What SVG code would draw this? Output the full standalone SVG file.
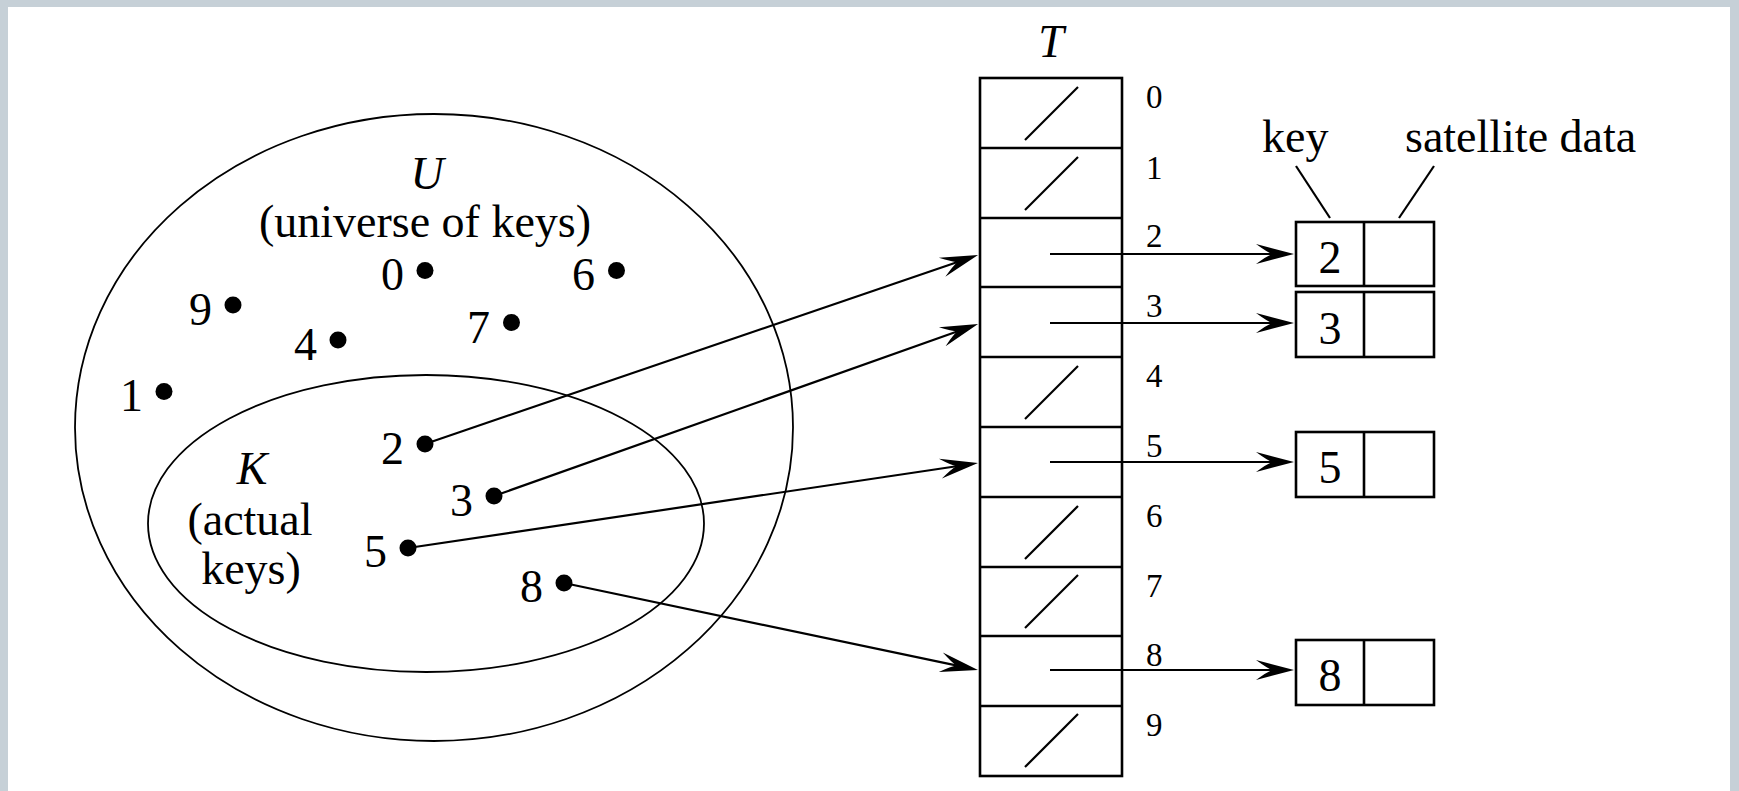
<svg xmlns="http://www.w3.org/2000/svg" width="1739" height="791" viewBox="0 0 1739 791">
  <defs>
    <style>
      .txt { font-family: "Liberation Serif", "Times New Roman", serif; fill: #000; }
      .big { font-size: 46px; }
      .idx { font-size: 33px; }
      .it { font-style: italic; }
      .ell { fill: none; stroke: #000; stroke-width: 1.8; }
      .cell { fill: none; stroke: #000; stroke-width: 2.6; }
      .rule { stroke: #000; stroke-width: 2.6; }
      .nil { stroke: #000; stroke-width: 2.2; }
      .dot { fill: #000; }
      .link { fill: none; stroke: #000; stroke-width: 2.2; marker-end: url(#arrow); }
      .lead { stroke: #000; stroke-width: 2.2; }
    </style>
    <marker id="arrow" viewBox="-40 -11 40 22" markerWidth="40" markerHeight="22" refX="-20" refY="0" orient="auto" markerUnits="userSpaceOnUse">
      <path d="M0,0 L-38,-10 Q-27,-2 -22,0 Q-27,2 -38,10 Z" fill="#000"/>
    </marker>
  </defs>

  <!-- page and frame -->
  <rect x="0" y="0" width="1739" height="791" fill="#fff"/>
  <rect x="0" y="0" width="1739" height="7" fill="#c6d0d7"/>
  <rect x="0" y="0" width="8" height="791" fill="#c6d0d7"/>
  <rect x="1730" y="0" width="9" height="791" fill="#c6d0d7"/>

  <!-- universe of keys -->
  <g id="universe">
    <ellipse class="ell" cx="434" cy="427.5" rx="359" ry="313.5"/>
    <text class="txt big it" x="427" y="189" text-anchor="middle">U</text>
    <text class="txt big" x="425" y="237" text-anchor="middle">(universe of keys)</text>
  </g>

  <!-- actual keys -->
  <g id="actual-keys">
    <ellipse class="ell" cx="426" cy="523.5" rx="278" ry="148.5"/>
    <text class="txt big it" x="252" y="484" text-anchor="middle">K</text>
    <text class="txt big" x="250" y="535" text-anchor="middle">(actual</text>
    <text class="txt big" x="251" y="584" text-anchor="middle">keys)</text>
  </g>

  <!-- keys -->
  <g id="key-0"><circle class="dot" cx="425" cy="270.5" r="8.5"/><text class="txt big" x="404" y="290" text-anchor="end">0</text></g>
  <g id="key-1"><circle class="dot" cx="164" cy="391.5" r="8.5"/><text class="txt big" x="143" y="411" text-anchor="end">1</text></g>
  <g id="key-2"><circle class="dot" cx="425" cy="444" r="8.5"/><text class="txt big" x="404" y="464" text-anchor="end">2</text></g>
  <g id="key-3"><circle class="dot" cx="494" cy="496" r="8.5"/><text class="txt big" x="473" y="516" text-anchor="end">3</text></g>
  <g id="key-4"><circle class="dot" cx="338" cy="340" r="8.5"/><text class="txt big" x="317" y="360" text-anchor="end">4</text></g>
  <g id="key-5"><circle class="dot" cx="408" cy="548" r="8.5"/><text class="txt big" x="387" y="567" text-anchor="end">5</text></g>
  <g id="key-6"><circle class="dot" cx="616.5" cy="270.5" r="8.5"/><text class="txt big" x="595" y="290" text-anchor="end">6</text></g>
  <g id="key-7"><circle class="dot" cx="511.5" cy="322.5" r="8.5"/><text class="txt big" x="490" y="343" text-anchor="end">7</text></g>
  <g id="key-8"><circle class="dot" cx="564" cy="583" r="8.5"/><text class="txt big" x="543" y="602" text-anchor="end">8</text></g>
  <g id="key-9"><circle class="dot" cx="233" cy="305" r="8.5"/><text class="txt big" x="212" y="325" text-anchor="end">9</text></g>

  <!-- direct-address table T -->
  <g id="table">
    <text class="txt big it" x="1051" y="57" text-anchor="middle">T</text>
    <rect class="cell" x="980" y="78" width="142" height="698"/>
    <line class="rule" x1="980" y1="148" x2="1122" y2="148"/>
    <line class="rule" x1="980" y1="218" x2="1122" y2="218"/>
    <line class="rule" x1="980" y1="287" x2="1122" y2="287"/>
    <line class="rule" x1="980" y1="357" x2="1122" y2="357"/>
    <line class="rule" x1="980" y1="427" x2="1122" y2="427"/>
    <line class="rule" x1="980" y1="497" x2="1122" y2="497"/>
    <line class="rule" x1="980" y1="567" x2="1122" y2="567"/>
    <line class="rule" x1="980" y1="636" x2="1122" y2="636"/>
    <line class="rule" x1="980" y1="706" x2="1122" y2="706"/>
    <!-- empty slots -->
    <line class="nil" x1="1025" y1="140" x2="1078" y2="87"/>
    <line class="nil" x1="1025" y1="210" x2="1078" y2="157"/>
    <line class="nil" x1="1025" y1="419" x2="1078" y2="366"/>
    <line class="nil" x1="1025" y1="559" x2="1078" y2="506"/>
    <line class="nil" x1="1025" y1="628" x2="1078" y2="575"/>
    <line class="nil" x1="1025" y1="767" x2="1078" y2="714"/>
    <!-- slot indices -->
    <text class="txt idx" x="1146" y="108">0</text>
    <text class="txt idx" x="1146" y="179">1</text>
    <text class="txt idx" x="1146" y="247">2</text>
    <text class="txt idx" x="1146" y="317">3</text>
    <text class="txt idx" x="1146" y="387">4</text>
    <text class="txt idx" x="1146" y="457">5</text>
    <text class="txt idx" x="1146" y="527">6</text>
    <text class="txt idx" x="1146" y="597">7</text>
    <text class="txt idx" x="1146" y="666">8</text>
    <text class="txt idx" x="1146" y="736">9</text>
  </g>

  <!-- record field legend -->
  <g id="record-legend">
    <text class="txt big" x="1262" y="152">key</text>
    <text class="txt big" x="1405" y="152">satellite data</text>
    <line class="lead" x1="1296" y1="166" x2="1330" y2="218"/>
    <line class="lead" x1="1434" y1="166" x2="1399" y2="218"/>
  </g>

  <!-- records -->
  <g id="record-2">
    <rect class="cell" x="1296" y="222" width="138" height="64"/>
    <line class="rule" x1="1364" y1="222" x2="1364" y2="286"/>
    <text class="txt big" x="1330" y="273" text-anchor="middle">2</text>
  </g>
  <g id="record-3">
    <rect class="cell" x="1296" y="292" width="138" height="65"/>
    <line class="rule" x1="1364" y1="292" x2="1364" y2="357"/>
    <text class="txt big" x="1330" y="344" text-anchor="middle">3</text>
  </g>
  <g id="record-5">
    <rect class="cell" x="1296" y="432" width="138" height="65"/>
    <line class="rule" x1="1364" y1="432" x2="1364" y2="497"/>
    <text class="txt big" x="1330" y="483" text-anchor="middle">5</text>
  </g>
  <g id="record-8">
    <rect class="cell" x="1296" y="640" width="138" height="65"/>
    <line class="rule" x1="1364" y1="640" x2="1364" y2="705"/>
    <text class="txt big" x="1330" y="691" text-anchor="middle">8</text>
  </g>

  <!-- connectors: keys to slots, slots to records -->
  <g id="connectors">
    <line class="link" x1="425" y1="444" x2="959.1" y2="261.5"/>
    <line class="link" x1="494" y1="496" x2="959.2" y2="330.7"/>
    <line class="link" x1="408" y1="548" x2="958.2" y2="466.0"/>
    <line class="link" x1="564" y1="583" x2="958.4" y2="665.9"/>
    <line class="link" x1="1050" y1="254" x2="1274" y2="254"/>
    <line class="link" x1="1050" y1="323" x2="1274" y2="323"/>
    <line class="link" x1="1050" y1="462" x2="1274" y2="462"/>
    <line class="link" x1="1050" y1="670" x2="1274" y2="670"/>
  </g>
</svg>
